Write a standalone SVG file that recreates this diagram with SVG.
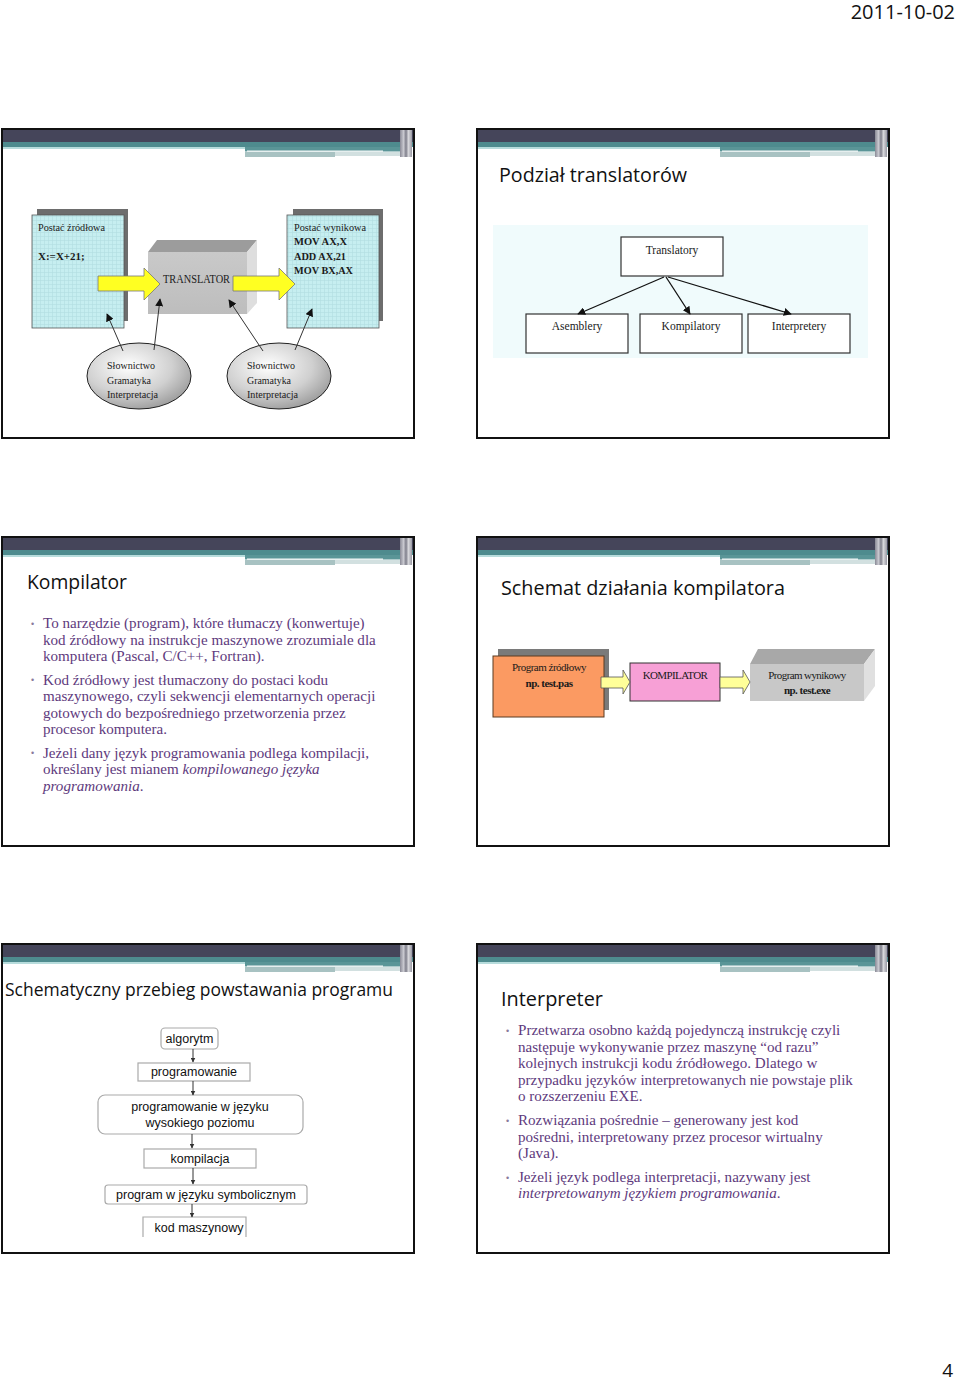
<svg xmlns="http://www.w3.org/2000/svg" xmlns:xlink="http://www.w3.org/1999/xlink" width="960" height="1383" viewBox="0 0 960 1383">
<style>
.frame{fill:#fff;stroke:#111;stroke-width:2}
.title{font-family:"Open Sans","Noto Sans",sans-serif;fill:#111}
.body{font-family:"Liberation Serif",serif;font-size:15.1px;fill:#5e3a7d}
.bul{font-family:"Liberation Sans",sans-serif;font-size:9px;fill:#8a7a9c}
.tnr{font-family:"Liberation Serif",serif;fill:#1a1a1a}
.ar{font-family:"Liberation Sans",sans-serif;font-size:12.5px;fill:#111}
.fbox{fill:#fff;stroke:#aaa;stroke-width:1.2}
.line{stroke:#111;stroke-width:1.3;fill:none}
.thin{stroke:#333;stroke-width:1;fill:none}
</style>
<defs>
<marker id="ah" viewBox="0 0 10 10" refX="9" refY="5" markerWidth="8" markerHeight="8" orient="auto" markerUnits="userSpaceOnUse"><path d="M0,0 L10,5 L0,10 z" fill="#111"/></marker>
<marker id="ahs" viewBox="0 0 10 10" refX="9" refY="5" markerWidth="5" markerHeight="5" orient="auto" markerUnits="userSpaceOnUse"><path d="M0,0 L10,5 L0,10 z" fill="#333"/></marker>
<pattern id="grid" width="4" height="4" patternUnits="userSpaceOnUse"><rect width="4" height="4" fill="#c6eef0"/><path d="M0,0.5 H4 M0.5,0 V4" stroke="#b2dde0" stroke-width="0.6"/></pattern>
<radialGradient id="ell" cx="0.4" cy="0.35" r="0.7"><stop offset="0" stop-color="#ffffff"/><stop offset="0.6" stop-color="#d0d0d0"/><stop offset="1" stop-color="#9a9a9a"/></radialGradient>
<linearGradient id="front" x1="0" y1="0" x2="0" y2="1"><stop offset="0" stop-color="#c9c9c9"/><stop offset="1" stop-color="#bdbdbd"/></linearGradient>
<linearGradient id="vs" x1="0" y1="0" x2="1" y2="0"><stop offset="0" stop-color="#8a8a96"/><stop offset="0.3" stop-color="#c9c9d0"/><stop offset="0.5" stop-color="#7e7e8a"/><stop offset="0.7" stop-color="#d8d8dc"/><stop offset="1" stop-color="#9a9aa4"/></linearGradient>
<g id="slide">
<rect class="frame" x="0" y="0" width="412" height="309"/>
<rect x="1" y="1" width="410" height="12" fill="#45455a"/>
<rect x="1" y="13" width="410" height="5" fill="#4e8b8e"/>
<rect x="1" y="18" width="242" height="2" fill="#b7dcdc"/>
<rect x="243" y="18" width="160" height="4.5" fill="#5a9597"/>
<rect x="245" y="21.5" width="136" height="1.3" fill="#f4f8f8"/>
<rect x="243" y="23" width="90" height="5" fill="#a8c2c2"/>
<rect x="333" y="23" width="65" height="4" fill="#d2e0e0"/>
<rect x="398" y="1" width="12" height="27" fill="url(#vs)"/>
</g>
</defs>

<text x="955" y="19" text-anchor="end" font-family="Open Sans, Noto Sans, sans-serif" font-size="20" fill="#111">2011-10-02</text>
<text x="953" y="1377" text-anchor="end" font-family="Open Sans, Noto Sans, sans-serif" font-size="19" fill="#111">4</text>

<!-- Slide 1 -->
<g id="slide1">
<use xlink:href="#slide" x="2" y="129"/>
<g id="src">
<rect x="37" y="209" width="91" height="112" fill="#6d6d6d"/>
<rect x="32" y="215" width="92" height="113" fill="url(#grid)" stroke="#555" stroke-width="0.8"/>
<text class="tnr" x="38" y="231" font-size="11" textLength="67" lengthAdjust="spacingAndGlyphs">Postać źródłowa</text>
<text class="tnr" x="38" y="260" font-size="11" font-weight="bold">X:=X+21;</text>
</g>
<g id="dst">
<rect x="293" y="209" width="90" height="112" fill="#6d6d6d"/>
<rect x="287" y="215" width="92" height="113" fill="url(#grid)" stroke="#555" stroke-width="0.8"/>
<text class="tnr" x="294" y="231" font-size="11" textLength="72" lengthAdjust="spacingAndGlyphs">Postać wynikowa</text>
<text class="tnr" x="294" y="245" font-size="11" font-weight="bold" textLength="53" lengthAdjust="spacingAndGlyphs">MOV AX,X</text>
<text class="tnr" x="294" y="260" font-size="11" font-weight="bold" textLength="52" lengthAdjust="spacingAndGlyphs">ADD AX,21</text>
<text class="tnr" x="294" y="274" font-size="11" font-weight="bold" textLength="59" lengthAdjust="spacingAndGlyphs">MOV BX,AX</text>
</g>
<g id="translator">
<path d="M148,252 L157,240 L257,240 L247,252 z" fill="#9c9c9c"/>
<path d="M247,252 L257,240 L257,303 L247,314 z" fill="#dedede"/>
<rect x="148" y="252" width="99" height="62" fill="url(#front)"/>
<text class="tnr" x="163" y="283" font-size="11.5" fill="#333" textLength="67" lengthAdjust="spacingAndGlyphs">TRANSLATOR</text>
</g>
<g id="yarrows">
<path d="M98,276 H144 V268 L160,284 L144,300 V291 H98 z" fill="#ffff22" stroke="#777" stroke-width="0.8"/>
<path d="M233,276 H279 V268 L295,284 L279,300 V291 H233 z" fill="#ffff22" stroke="#777" stroke-width="0.8"/>
</g>
<g id="ell1">
<ellipse cx="139" cy="376" rx="52" ry="33" fill="url(#ell)" stroke="#222" stroke-width="1"/>
<text class="tnr" x="107" y="369" font-size="11" textLength="48" lengthAdjust="spacingAndGlyphs">Słownictwo</text>
<text class="tnr" x="107" y="384" font-size="11" textLength="44" lengthAdjust="spacingAndGlyphs">Gramatyka</text>
<text class="tnr" x="107" y="398" font-size="11" textLength="51" lengthAdjust="spacingAndGlyphs">Interpretacja</text>
</g>
<g id="ell2">
<ellipse cx="279" cy="376" rx="52" ry="33" fill="url(#ell)" stroke="#222" stroke-width="1"/>
<text class="tnr" x="247" y="369" font-size="11" textLength="48" lengthAdjust="spacingAndGlyphs">Słownictwo</text>
<text class="tnr" x="247" y="384" font-size="11" textLength="44" lengthAdjust="spacingAndGlyphs">Gramatyka</text>
<text class="tnr" x="247" y="398" font-size="11" textLength="51" lengthAdjust="spacingAndGlyphs">Interpretacja</text>
</g>
<g id="conn1">
<line class="thin" x1="123" y1="351" x2="107" y2="314" marker-end="url(#ah)"/>
<line class="thin" x1="154" y1="350" x2="160" y2="299" marker-end="url(#ah)"/>
<line class="thin" x1="263" y1="351" x2="229" y2="300" marker-end="url(#ah)"/>
<line class="thin" x1="295" y1="350" x2="312" y2="309" marker-end="url(#ah)"/>
</g>
</g>

<!-- Slide 2 -->
<g id="slide2">
<use xlink:href="#slide" x="477" y="129"/>
<text class="title" x="499" y="182" font-size="20" textLength="188" lengthAdjust="spacingAndGlyphs">Podział translatorów</text>
<rect x="493" y="225" width="375" height="133" fill="#f0fbfc"/>
<g id="n-translatory"><rect x="621" y="237" width="102" height="39" fill="#fff" stroke="#333" stroke-width="1.2"/><text class="tnr" x="672" y="254" font-size="11.5" text-anchor="middle">Translatory</text></g>
<g id="n-asemblery"><rect x="526" y="314" width="102" height="39" fill="#fff" stroke="#333" stroke-width="1.2"/><text class="tnr" x="577" y="330" font-size="11.5" text-anchor="middle">Asemblery</text></g>
<g id="n-kompilatory"><rect x="640" y="314" width="102" height="39" fill="#fff" stroke="#333" stroke-width="1.2"/><text class="tnr" x="691" y="330" font-size="11.5" text-anchor="middle">Kompilatory</text></g>
<g id="n-interpretery"><rect x="748" y="314" width="102" height="39" fill="#fff" stroke="#333" stroke-width="1.2"/><text class="tnr" x="799" y="330" font-size="11.5" text-anchor="middle">Interpretery</text></g>
<g id="conn2">
<line class="line" x1="664" y1="277" x2="578" y2="314" marker-end="url(#ah)"/>
<line class="line" x1="666" y1="277" x2="690" y2="314" marker-end="url(#ah)"/>
<line class="line" x1="668" y1="277" x2="791" y2="314" marker-end="url(#ah)"/>
</g>
</g>

<!-- Slide 3 -->
<g id="slide3">
<use xlink:href="#slide" x="2" y="537"/>
<text class="title" x="27" y="589" font-size="20" textLength="100" lengthAdjust="spacingAndGlyphs">Kompilator</text>
<text class="bul" x="31" y="627">•</text>
<text class="bul" x="31" y="683">•</text>
<text class="bul" x="31" y="756">•</text>
<text class="body" x="43" y="628">To narzędzie (program), które tłumaczy (konwertuje)</text>
<text class="body" x="43" y="645">kod źródłowy na instrukcje maszynowe zrozumiale dla</text>
<text class="body" x="43" y="661">komputera (Pascal, C/C++, Fortran).</text>
<text class="body" x="43" y="685">Kod źródłowy jest tłumaczony do postaci kodu</text>
<text class="body" x="43" y="701">maszynowego, czyli sekwencji elementarnych operacji</text>
<text class="body" x="43" y="718">gotowych do bezpośredniego przetworzenia przez</text>
<text class="body" x="43" y="734">procesor komputera.</text>
<text class="body" x="43" y="758">Jeżeli dany język programowania podlega kompilacji,</text>
<text class="body" x="43" y="774">określany jest mianem <tspan font-style="italic">kompilowanego języka</tspan></text>
<text class="body" x="43" y="791"><tspan font-style="italic">programowania</tspan>.</text>
</g>

<!-- Slide 4 -->
<g id="slide4">
<use xlink:href="#slide" x="477" y="537"/>
<text class="title" x="501" y="595" font-size="20" textLength="284" lengthAdjust="spacingAndGlyphs" fill="#222">Schemat działania kompilatora</text>
<g id="n-zrodlowy">
<rect x="498" y="649" width="111" height="61" fill="#7a7a7a"/>
<rect x="493" y="656" width="111" height="61" fill="#fb9a62" stroke="#5a3a20" stroke-width="1"/>
<text class="tnr" x="549" y="671" font-size="11" text-anchor="middle" letter-spacing="-0.5">Program źródłowy</text>
<text class="tnr" x="549" y="687" font-size="11" font-weight="bold" text-anchor="middle" letter-spacing="-0.5">np. test.pas</text>
</g>
<g id="n-kompilator">
<rect x="630" y="663" width="90" height="38" fill="#f7a0d6" stroke="#333" stroke-width="1"/>
<text class="tnr" x="675" y="679" font-size="11" text-anchor="middle" letter-spacing="-0.6">KOMPILATOR</text>
</g>
<g id="n-wynikowy">
<path d="M750,664 L758,649 L875,649 L864,664 z" fill="#a8a8a8"/>
<path d="M864,664 L875,649 L875,686 L864,701 z" fill="#e0e0e0"/>
<rect x="750" y="664" width="114" height="37" fill="#c8c8c8"/>
<text class="tnr" x="807" y="679" font-size="11" text-anchor="middle" letter-spacing="-0.6">Program wynikowy</text>
<text class="tnr" x="807" y="694" font-size="11" font-weight="bold" text-anchor="middle" letter-spacing="-0.5">np. test.exe</text>
</g>
<g id="conn4">
<path d="M601,677 H623 V670 L630,682 L623,694 V688 H601 z" fill="#ffff99" stroke="#555" stroke-width="0.8"/>
<path d="M720,677 H743 V670 L750,682 L743,694 V688 H720 z" fill="#ffff99" stroke="#555" stroke-width="0.8"/>
</g>
</g>

<!-- Slide 5 -->
<g id="slide5">
<use xlink:href="#slide" x="2" y="944"/>
<text class="title" x="5" y="996" font-size="18.5" textLength="388" lengthAdjust="spacingAndGlyphs">Schematyczny przebieg powstawania programu</text>
<g id="f-algorytm"><rect class="fbox" x="161" y="1028" width="57" height="21" rx="4"/><text class="ar" x="189.5" y="1043" text-anchor="middle">algorytm</text></g>
<g id="f-programowanie"><rect class="fbox" x="138" y="1063" width="112" height="18"/><text class="ar" x="194" y="1076" text-anchor="middle">programowanie</text></g>
<g id="f-wysoki"><rect class="fbox" x="98" y="1095" width="205" height="39" rx="7"/><text class="ar" x="200" y="1111" text-anchor="middle">programowanie w języku</text><text class="ar" x="200" y="1127" text-anchor="middle">wysokiego poziomu</text></g>
<g id="f-kompilacja"><rect class="fbox" x="144" y="1149" width="112" height="19"/><text class="ar" x="200" y="1163" text-anchor="middle">kompilacja</text></g>
<g id="f-symboliczny"><rect class="fbox" x="105" y="1185" width="202" height="19" rx="3"/><text class="ar" x="206" y="1199" text-anchor="middle">program w języku symbolicznym</text></g>
<g id="f-kod"><path class="fbox" d="M143,1237 V1217 H246 V1237" fill="none"/><text class="ar" x="199" y="1232" text-anchor="middle">kod maszynowy</text></g>
<g id="conn5">
<line class="thin" x1="193" y1="1049" x2="193" y2="1062" marker-end="url(#ahs)"/>
<line class="thin" x1="193" y1="1081" x2="193" y2="1095" marker-end="url(#ahs)"/>
<line class="thin" x1="192" y1="1134" x2="192" y2="1148" marker-end="url(#ahs)"/>
<line class="thin" x1="193" y1="1168" x2="193" y2="1184" marker-end="url(#ahs)"/>
<line class="thin" x1="192" y1="1204" x2="192" y2="1217" marker-end="url(#ahs)"/>
</g>
</g>

<!-- Slide 6 -->
<g id="slide6">
<use xlink:href="#slide" x="477" y="944"/>
<text class="title" x="501" y="1006" font-size="20" textLength="102" lengthAdjust="spacingAndGlyphs">Interpreter</text>
<text class="bul" x="506" y="1034">•</text>
<text class="bul" x="506" y="1124">•</text>
<text class="bul" x="506" y="1181">•</text>
<text class="body" x="518" y="1035">Przetwarza osobno każdą pojedynczą instrukcję czyli</text>
<text class="body" x="518" y="1052">następuje wykonywanie przez maszynę “od razu”</text>
<text class="body" x="518" y="1068">kolejnych instrukcji kodu źródłowego. Dlatego w</text>
<text class="body" x="518" y="1085">przypadku języków interpretowanych nie powstaje plik</text>
<text class="body" x="518" y="1101">o rozszerzeniu EXE.</text>
<text class="body" x="518" y="1125">Rozwiązania pośrednie – generowany jest kod</text>
<text class="body" x="518" y="1142">pośredni, interpretowany przez procesor wirtualny</text>
<text class="body" x="518" y="1158">(Java).</text>
<text class="body" x="518" y="1182">Jeżeli język podlega interpretacji, nazywany jest</text>
<text class="body" x="518" y="1198"><tspan font-style="italic">interpretowanym językiem programowania</tspan>.</text>
</g>
</svg>
